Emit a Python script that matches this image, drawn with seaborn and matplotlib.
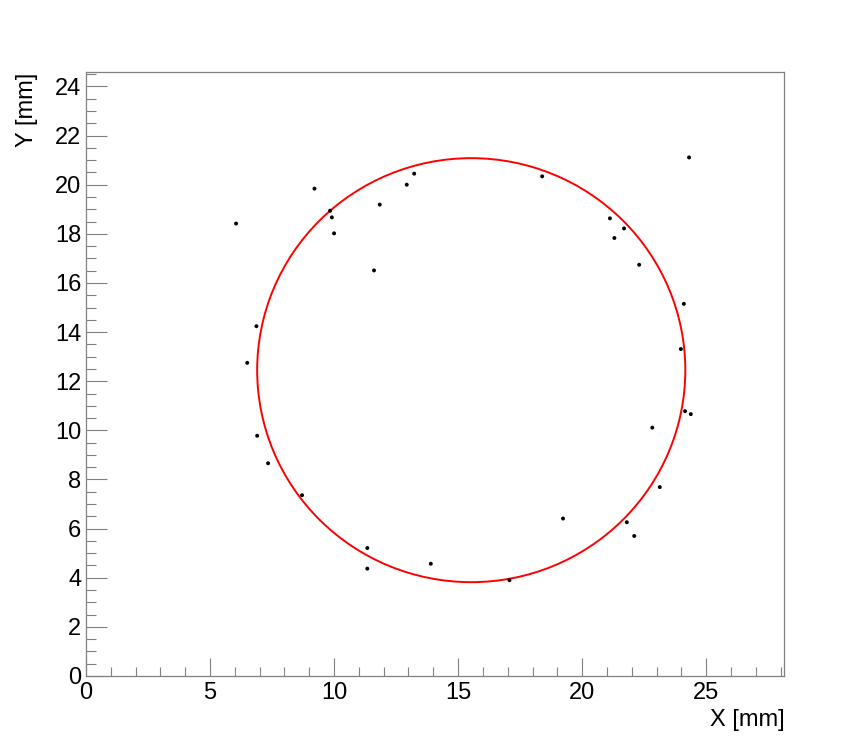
import numpy as np
import pandas as pd
import matplotlib
matplotlib.use("Agg")
import matplotlib.pyplot as plt
from matplotlib.ticker import MultipleLocator
from matplotlib.patches import Circle
import seaborn as sns

# Data: hit positions (mm)
x_mm = [6.05, 9.21, 9.84, 9.91, 10.00, 11.84, 12.93, 13.23, 11.61, 18.39,
        24.31, 21.12, 21.69, 21.30, 22.30, 24.10, 6.87, 6.50, 6.90, 7.34,
        8.71, 23.98, 24.15, 24.38, 22.83, 23.13, 11.34, 11.34, 13.90, 17.07,
        19.23, 21.80, 22.10]
y_mm = [18.42, 19.84, 18.94, 18.67, 18.02, 19.19, 20.00, 20.45, 16.51, 20.34,
        21.11, 18.63, 18.22, 17.83, 16.74, 15.15, 14.24, 12.75, 9.78, 8.66,
        7.36, 13.31, 10.78, 10.66, 10.11, 7.69, 5.21, 4.37, 4.57, 3.90,
        6.41, 6.26, 5.70]

# Fitted circle
circle_cx = 15.53
circle_cy = 12.45
circle_r = 8.63

x_range = (0, 28.15)
y_range = (0, 24.6)

sns.set_theme(style="white")
plt.rcParams['font.family'] = ['Liberation Sans', 'DejaVu Sans']

FS = 17

fig = plt.figure(figsize=(8.63, 7.5), dpi=100)
ax = fig.add_axes([86/863, 1-676/750, (784.3-86)/863, (676-71.7)/750])

df = pd.DataFrame({"x": x_mm, "y": y_mm})
sns.scatterplot(data=df, x="x", y="y", ax=ax, color="black", s=8,
                marker="o", edgecolor="none", linewidth=0, zorder=3)

ax.add_patch(Circle((circle_cx, circle_cy), circle_r, fill=False,
                    edgecolor="#ff0000", linewidth=1.4, zorder=2))

ax.set_xlim(*x_range)
ax.set_ylim(*y_range)

frame_col = "#808080"
for s in ax.spines.values():
    s.set_color(frame_col)
    s.set_linewidth(0.9)
    s.set_visible(True)

ax.xaxis.set_major_locator(MultipleLocator(5))
ax.xaxis.set_minor_locator(MultipleLocator(1))
ax.yaxis.set_major_locator(MultipleLocator(2))
ax.yaxis.set_minor_locator(MultipleLocator(0.5))

ax.tick_params(axis='x', which='major', direction='in', length=12.7, width=0.8,
               color=frame_col, labelsize=FS, pad=4.3, top=False, bottom=True)
ax.tick_params(axis='x', which='minor', direction='in', length=6.3, width=0.8,
               color=frame_col, top=False, bottom=True)
ax.tick_params(axis='y', which='major', direction='in', length=14.9, width=0.8,
               color=frame_col, labelsize=FS, pad=3.4, right=False, left=True)
ax.tick_params(axis='y', which='minor', direction='in', length=7.2, width=0.8,
               color=frame_col, right=False, left=True)
ax.tick_params(labelcolor="black")

ax.set_xlabel("")
ax.set_ylabel("")
ax.text(1.0, (676-725.7)/604.3, "X [mm]", transform=ax.transAxes,
        ha="right", va="baseline", fontsize=FS, color="black")
ax.text((33.5-86)/698.3, 0.999, "Y [mm]", transform=ax.transAxes,
        rotation=90, rotation_mode="anchor", ha="right", va="baseline",
        fontsize=FS, color="black")

fig.savefig("out.png", dpi=100, facecolor="white")
